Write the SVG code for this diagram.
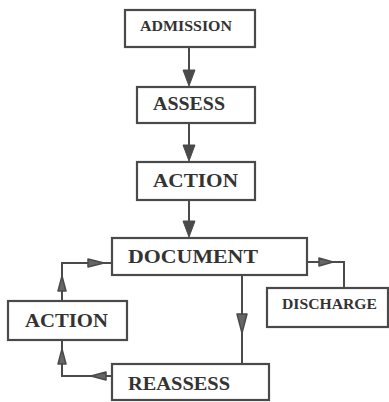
<svg xmlns="http://www.w3.org/2000/svg" width="389" height="402" viewBox="0 0 389 402">
<style>
.box{fill:#fff;stroke:#4a4a4a;stroke-width:2.2}
.t{font-family:"Liberation Serif","Times New Roman",serif;font-weight:bold;fill:#333}
.ln{fill:none;stroke:#4a4a4a;stroke-width:2}
.ah{fill:#4a4a4a;stroke:#4a4a4a;stroke-width:1}
.ah2{fill:#666;stroke:#4a4a4a;stroke-width:1.5;stroke-linejoin:round}
</style>
<rect width="389" height="402" fill="#fff"/>
<g id="connectors">
<path class="ln" d="M189 47V72"/><polygon class="ah" points="183,70 195,70 189,86"/>
<path class="ln" d="M189 123V146"/><polygon class="ah" points="183,145 195,145 189,161"/>
<path class="ln" d="M189 200V222"/><polygon class="ah" points="183,221 195,221 189,237"/>
<path class="ln" d="M62 301V263H112"/>
<polygon class="ah2" points="58,291 66,291 62,276"/>
<polygon class="ah2" points="88,259 88,267 104,263"/>
<path class="ln" d="M112 376H62V340"/>
<polygon class="ah2" points="58,364 66,364 62,349"/>
<polygon class="ah2" points="106,372 106,380 91,376"/>
<path class="ln" d="M242 275V364"/>
<polygon class="ah2" points="237,314 247,314 242,333"/>
<path class="ln" d="M307 262H344V288"/>
<polygon class="ah2" points="319,258 319,266 333,262"/>
</g>
<g id="admission"><rect class="box" x="125" y="10" width="130" height="37"/><text class="t" x="140" y="31" font-size="14" textLength="92" lengthAdjust="spacingAndGlyphs">ADMISSION</text></g>
<g id="assess"><rect class="box" x="137" y="87" width="118" height="36"/><text class="t" x="153" y="110" font-size="18" textLength="72" lengthAdjust="spacingAndGlyphs">ASSESS</text></g>
<g id="action1"><rect class="box" x="137" y="162" width="118" height="38"/><text class="t" x="153" y="187" font-size="19" textLength="85" lengthAdjust="spacingAndGlyphs">ACTION</text></g>
<g id="document"><rect class="box" x="112" y="238" width="195" height="37"/><text class="t" x="128" y="263" font-size="18" textLength="130" lengthAdjust="spacingAndGlyphs">DOCUMENT</text></g>
<g id="discharge"><rect class="box" x="267" y="288" width="121" height="39"/><text class="t" x="282" y="309" font-size="14" textLength="95" lengthAdjust="spacingAndGlyphs">DISCHARGE</text></g>
<g id="action2"><rect class="box" x="8" y="301" width="119" height="39"/><text class="t" x="25" y="327" font-size="18" textLength="83" lengthAdjust="spacingAndGlyphs">ACTION</text></g>
<g id="reassess"><rect class="box" x="112" y="364" width="157" height="36"/><text class="t" x="128" y="390" font-size="18" textLength="102" lengthAdjust="spacingAndGlyphs">REASSESS</text></g>
</svg>
